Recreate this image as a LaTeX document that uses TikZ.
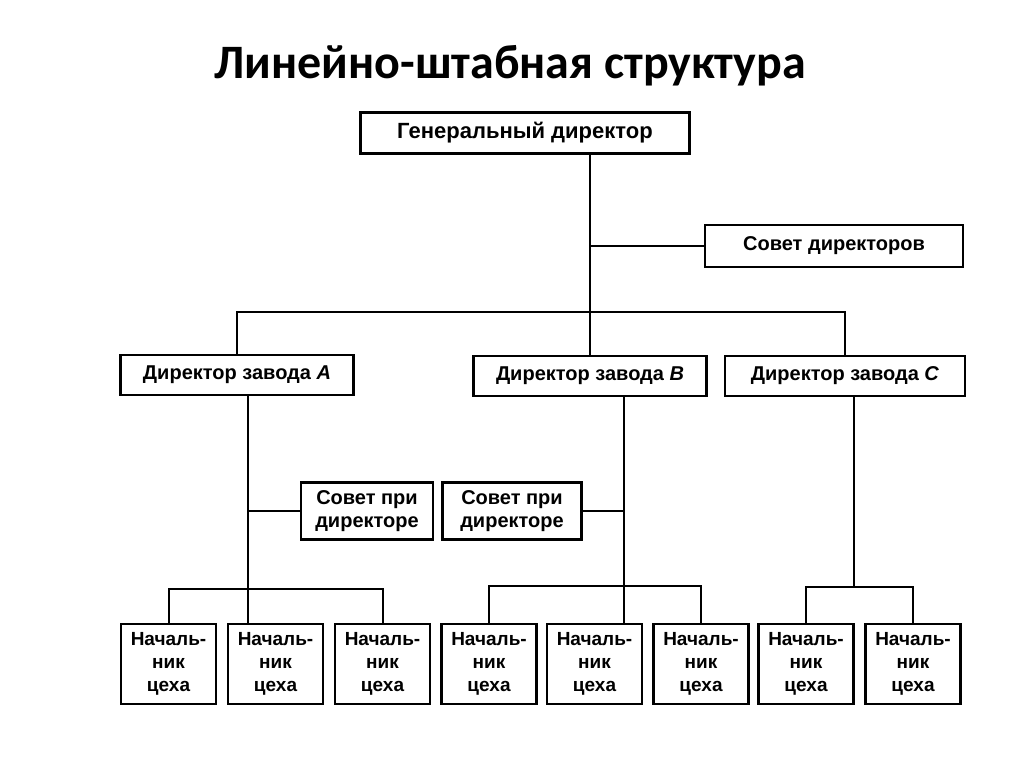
\documentclass[tikz,border=0pt]{standalone}
\usepackage{fontspec}
\setmainfont{Liberation Sans}
\newfontfamily\headfont{Carlito}
\usetikzlibrary{positioning, calc}

\begin{document}
\begin{tikzpicture}[x=1pt, y=-1pt,
    box/.style={draw, line width=2.2pt, inner sep=0pt, align=center,
        font=\bfseries\fontsize{20}{23}\selectfont},
    shop/.style={box, minimum width=95, minimum height=80,
        font=\bfseries\fontsize{19}{23}\selectfont},
    link/.style={line width=2pt}]
    \useasboundingbox (0,0) rectangle (1024,767);
    \node[font=\headfont\bfseries\fontsize{48}{56}\selectfont] (title) at (510,66) {Линейно-штабная структура};
    % top level
    \node[box, minimum width=329, minimum height=41, font=\bfseries\fontsize{22}{26}\selectfont] (gen) at (525,133) {Генеральный директор};
    \node[box, minimum width=258, minimum height=42] (board) at (834,246) {Совет директоров};
    % plant directors
    \node[box, minimum width=233, minimum height=40] (dirA) at (237,375) {Директор завода \textit{A}};
    \node[box, minimum width=233, minimum height=40] (dirB) at (590,376) {Директор завода \textit{B}};
    \node[box, minimum width=240, minimum height=40] (dirC) at (845,376) {Директор завода \textit{C}};
    \node[box, minimum width=132, minimum height=57] (councilA) at (367,511) {Совет при\\директоре};
    \node[box, minimum width=139, minimum height=57] (councilB) at (512,511) {Совет при\\директоре};
    % shop heads
    \node[shop] (shopA1) at (168.5,664) {Началь-\\ник\\цеха};
    \node[shop] (shopA2) at (275.5,664) {Началь-\\ник\\цеха};
    \node[shop] (shopA3) at (382.5,664) {Началь-\\ник\\цеха};
    \node[shop] (shopB1) at (489,664) {Началь-\\ник\\цеха};
    \node[shop] (shopB2) at (594.5,664) {Началь-\\ник\\цеха};
    \node[shop] (shopB3) at (701,664) {Началь-\\ник\\цеха};
    \node[shop] (shopC1) at (806,664) {Началь-\\ник\\цеха};
    \node[shop] (shopC2) at (913,664) {Началь-\\ник\\цеха};
    % connectors
    \coordinate (bus) at (590,312);
    \coordinate (forkA) at (248,589);
    \coordinate (forkB) at (624,586);
    \coordinate (forkC) at (854,587);
    \draw[link] (gen.south -| dirB.north) -- (dirB.north);
    \draw[link] (board.west) -- (board.west -| dirB.north);
    \draw[link] (dirA.north) |- (bus) -| (dirC.north);
    \draw[link] (dirA.south -| forkA) -- (shopA2.north -| forkA);
    \draw[link] (councilA.west) -- (councilA.west -| forkA);
    \draw[link] (shopA1.north) |- (forkA) -| (shopA3.north);
    \draw[link] (dirB.south -| forkB) -- (shopB2.north -| forkB);
    \draw[link] (councilB.east) -- (councilB.east -| forkB);
    \draw[link] (shopB1.north) |- (forkB) -| (shopB3.north);
    \draw[link] (dirC.south -| forkC) -- (forkC);
    \draw[link] (shopC1.north) |- (forkC) -| (shopC2.north);
\end{tikzpicture}
\end{document}
